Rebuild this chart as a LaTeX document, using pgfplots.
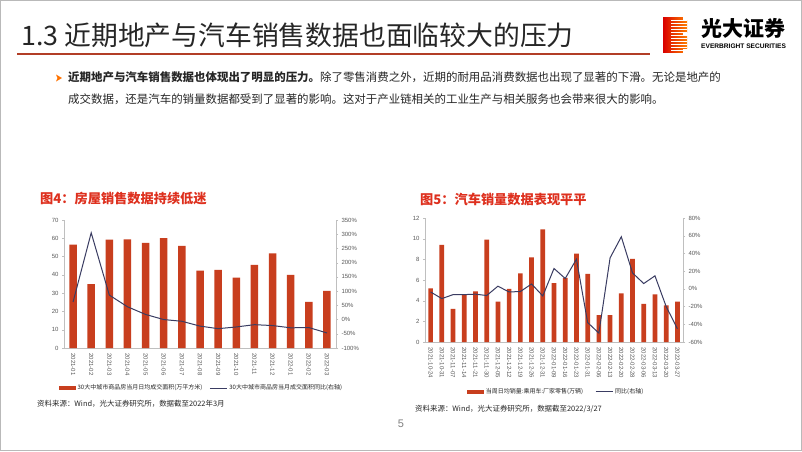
\documentclass[border=0pt]{standalone}
\usepackage{pgfplots}
\pgfplotsset{compat=1.18}
\usepackage{fontspec}
\setmainfont{Liberation Sans}
\newfontfamily\cjk{Noto Sans CJK SC}

\definecolor{barred}{RGB}{200,62,30}
\definecolor{linec}{RGB}{58,60,98}
\definecolor{figred}{RGB}{222,48,30}
\definecolor{uline}{RGB}{178,62,38}
\definecolor{txt}{RGB}{38,38,38}
\definecolor{tickc}{RGB}{89,89,89}
\definecolor{axc}{RGB}{191,191,191}

\pgfplotsset{
  slide/.style={
    scale only axis,
    anchor=south west,
    axis line style={axc},
    tick style={axc},
    tick align=outside,
    major tick length=2pt,
    minor tick length=2pt,
    tick label style={font=\fontsize{6}{7}\selectfont, color=tickc},
    /pgf/number format/assume math mode=true,
  },
}

\begin{document}
\begin{tikzpicture}
\useasboundingbox (0pt,0pt) rectangle (802pt,-451pt);
\fill[white] (0pt,0pt) rectangle (802pt,-451pt);
\draw[gray!55, line width=1pt] (0.5pt,-0.5pt) rectangle (801.5pt,-450.5pt);

% title
\node[anchor=west, text=txt, inner sep=0pt] at (21pt,-35pt)
  {\cjk\fontsize{26.8}{27}\selectfont 1.3 近期地产与汽车销售数据也面临较大的压力};
\fill[uline] (17pt,-52.5pt) rectangle (650pt,-54.5pt);

% logo
\shade[left color=red!85!black, right color=orange] (663pt,-17pt) rectangle (687pt,-52pt);
\foreach \yy in {20,23,...,50} {
  \draw[white, line width=0.8pt] (671pt,-\yy pt) -- (687pt,-\yy pt);
}
\fill[white] (683pt,-17pt) rectangle (687.5pt,-20pt);
\fill[white] (683pt,-33pt) rectangle (687.5pt,-36pt);
\fill[white] (683pt,-49pt) rectangle (687.5pt,-52.5pt);
\node[anchor=west, inner sep=0pt] at (701pt,-28pt)
  {\cjk\bfseries\fontsize{21}{21}\selectfont 光大证券};
\node[anchor=west, inner sep=0pt] at (701pt,-46pt)
  {\bfseries\fontsize{6.6}{7}\selectfont EVERBRIGHT SECURITIES};

% body text
\fill[orange!90!red] (56pt,-74.5pt) -- (62pt,-78pt) -- (56pt,-81.5pt) -- (57.5pt,-78pt) -- cycle;
\node[anchor=north west, text=txt, inner sep=0pt, align=left,
      font=\cjk\fontsize{11.45}{22}\selectfont] at (68pt,-71pt)
  {\textbf{近期地产与汽车销售数据也体现出了明显的压力。}除了零售消费之外，近期的耐用品消费数据也出现了显著的下滑。无论是地产的\\
   成交数据，还是汽车的销量数据都受到了显著的影响。这对于产业链相关的工业生产与相关服务也会带来很大的影响。};

% figure titles
\node[anchor=west, text=figred, inner sep=0pt] at (40pt,-199pt)
  {\cjk\bfseries\fontsize{13.2}{14}\selectfont 图4：房屋销售数据持续低迷};
\node[anchor=west, text=figred, inner sep=0pt] at (420pt,-199pt)
  {\cjk\bfseries\fontsize{13.2}{14}\selectfont 图5：汽车销量数据表现平平};

% chart 1
\begin{axis}[slide,
  at={(64pt,-348pt)}, width=272pt, height=128pt,
  axis y line*=left, axis x line*=bottom,
  xmin=-0.5, xmax=14.5, ymin=0, ymax=70,
  ytick={0,10,...,70},
  xtick={0,...,14},
  xticklabels={2021-01,2021-02,2021-03,2021-04,2021-05,2021-06,2021-07,2021-08,2021-09,2021-10,2021-11,2021-12,2022-01,2022-02,2022-03},
  xticklabel style={rotate=-90, anchor=west},
  xtick style={draw=none},
  minor x tick num=1,
  ybar, bar width=7.5pt,
  legend columns=2,
  legend style={draw=none, fill=none, at={(0.505,-0.3125)}, anchor=center,
    font=\cjk\fontsize{6}{7}\selectfont, text=txt,
    /tikz/every even column/.append style={column sep=5pt}},
]
\addplot[fill=barred, draw=none,
  legend image code/.code={\fill[barred] (0pt,-2pt) rectangle (17pt,2pt);}]
  coordinates {(0,56.5) (1,35) (2,59.3) (3,59.4) (4,57.5) (5,60.1) (6,55.8) (7,42.3)
               (8,42.8) (9,38.5) (10,45.5) (11,51.8) (12,40) (13,25.2) (14,31.2)};
\addlegendentry{30大中城市商品房当月日均成交面积(万平方米)}
\addlegendimage{legend image code/.code={\draw[linec, line width=1pt] (0pt,0pt) -- (17pt,0pt);}}
\addlegendentry{30大中城市商品房当月成交面积同比(右轴)}
\end{axis}
\begin{axis}[slide,
  at={(64pt,-348pt)}, width=272pt, height=128pt,
  axis y line*=right, axis x line=none,
  xmin=-0.5, xmax=14.5, ymin=-100, ymax=350,
  ytick={-100,-50,...,350},
  yticklabel={\pgfmathprintnumber{\tick}\%},
]
\addplot[linec, line width=1pt, mark=none]
  coordinates {(0,62) (1,305) (2,86) (3,45) (4,18) (5,0) (6,-6) (7,-23)
               (8,-32) (9,-26) (10,-18) (11,-21) (12,-29) (13,-28) (14,-47)};
\end{axis}

% chart 2
\begin{axis}[slide,
  at={(425pt,-342pt)}, width=258pt, height=124pt,
  axis y line*=left, axis x line*=bottom,
  xmin=-0.5, xmax=22.5, ymin=0, ymax=12,
  ytick={0,2,...,12},
  xtick={0,...,22},
  xticklabels={2021-10-24,2021-10-31,2021-11-07,2021-11-14,2021-11-21,2021-11-30,2021-12-05,2021-12-12,2021-12-19,2021-12-26,2021-12-31,2022-01-09,2022-01-16,2022-01-23,2022-01-31,2022-02-06,2022-02-13,2022-02-20,2022-02-28,2022-03-06,2022-03-13,2022-03-20,2022-03-27},
  xticklabel style={rotate=-90, anchor=west},
  xtick style={draw=none},
  minor x tick num=1,
  ybar, bar width=4.7pt,
  legend columns=2,
  legend style={draw=none, fill=none, at={(0.508,-0.403)}, anchor=center,
    font=\cjk\fontsize{6}{7}\selectfont, text=txt,
    /tikz/every even column/.append style={column sep=10pt}},
]
\addplot[fill=barred, draw=none,
  legend image code/.code={\fill[barred] (0pt,-2pt) rectangle (17pt,2pt);}]
  coordinates {(0,5.2) (1,9.4) (2,3.2) (3,4.6) (4,4.9) (5,9.9) (6,3.9) (7,5.15)
               (8,6.65) (9,8.2) (10,10.9) (11,5.7) (12,6.2) (13,8.55) (14,6.6)
               (15,2.6) (16,2.6) (17,4.7) (18,8.05) (19,3.7) (20,4.6) (21,3.55) (22,3.9)};
\addlegendentry{当周日均销量:乘用车:厂家零售(万辆)}
\addlegendimage{legend image code/.code={\draw[linec, line width=1pt] (0pt,0pt) -- (17pt,0pt);}}
\addlegendentry{同比(右轴)}
\end{axis}
\begin{axis}[slide,
  at={(425pt,-342pt)}, width=258pt, height=124pt,
  axis y line*=right, axis x line=none,
  xmin=-0.5, xmax=22.5, ymin=-60, ymax=80,
  ytick={-60,-40,...,80},
  yticklabel={\pgfmathprintnumber{\tick}\%},
]
\addplot[linec, line width=1pt, mark=none]
  coordinates {(0,-3.5) (1,-11) (2,-6.5) (3,-6.5) (4,-6) (5,-7.5) (6,3) (7,-3.5)
               (8,-3) (9,5.5) (10,-8) (11,23) (12,11.7) (13,33.5) (14,-38)
               (15,-50) (16,35) (17,58.8) (18,18) (19,6) (20,14.7) (21,-20) (22,-45)};
\end{axis}

% sources and page number
\node[anchor=west, text=txt, inner sep=0pt] at (37pt,-404pt)
  {\cjk\fontsize{7.45}{8}\selectfont 资料来源：Wind，光大证券研究所，数据截至2022年3月};
\node[anchor=west, text=txt, inner sep=0pt] at (415pt,-409pt)
  {\cjk\fontsize{7.45}{8}\selectfont 资料来源：Wind，光大证券研究所，数据截至2022/3/27};
\node[text=gray, inner sep=0pt] at (401pt,-424pt)
  {\fontsize{11}{12}\selectfont 5};
\end{tikzpicture}
\end{document}
